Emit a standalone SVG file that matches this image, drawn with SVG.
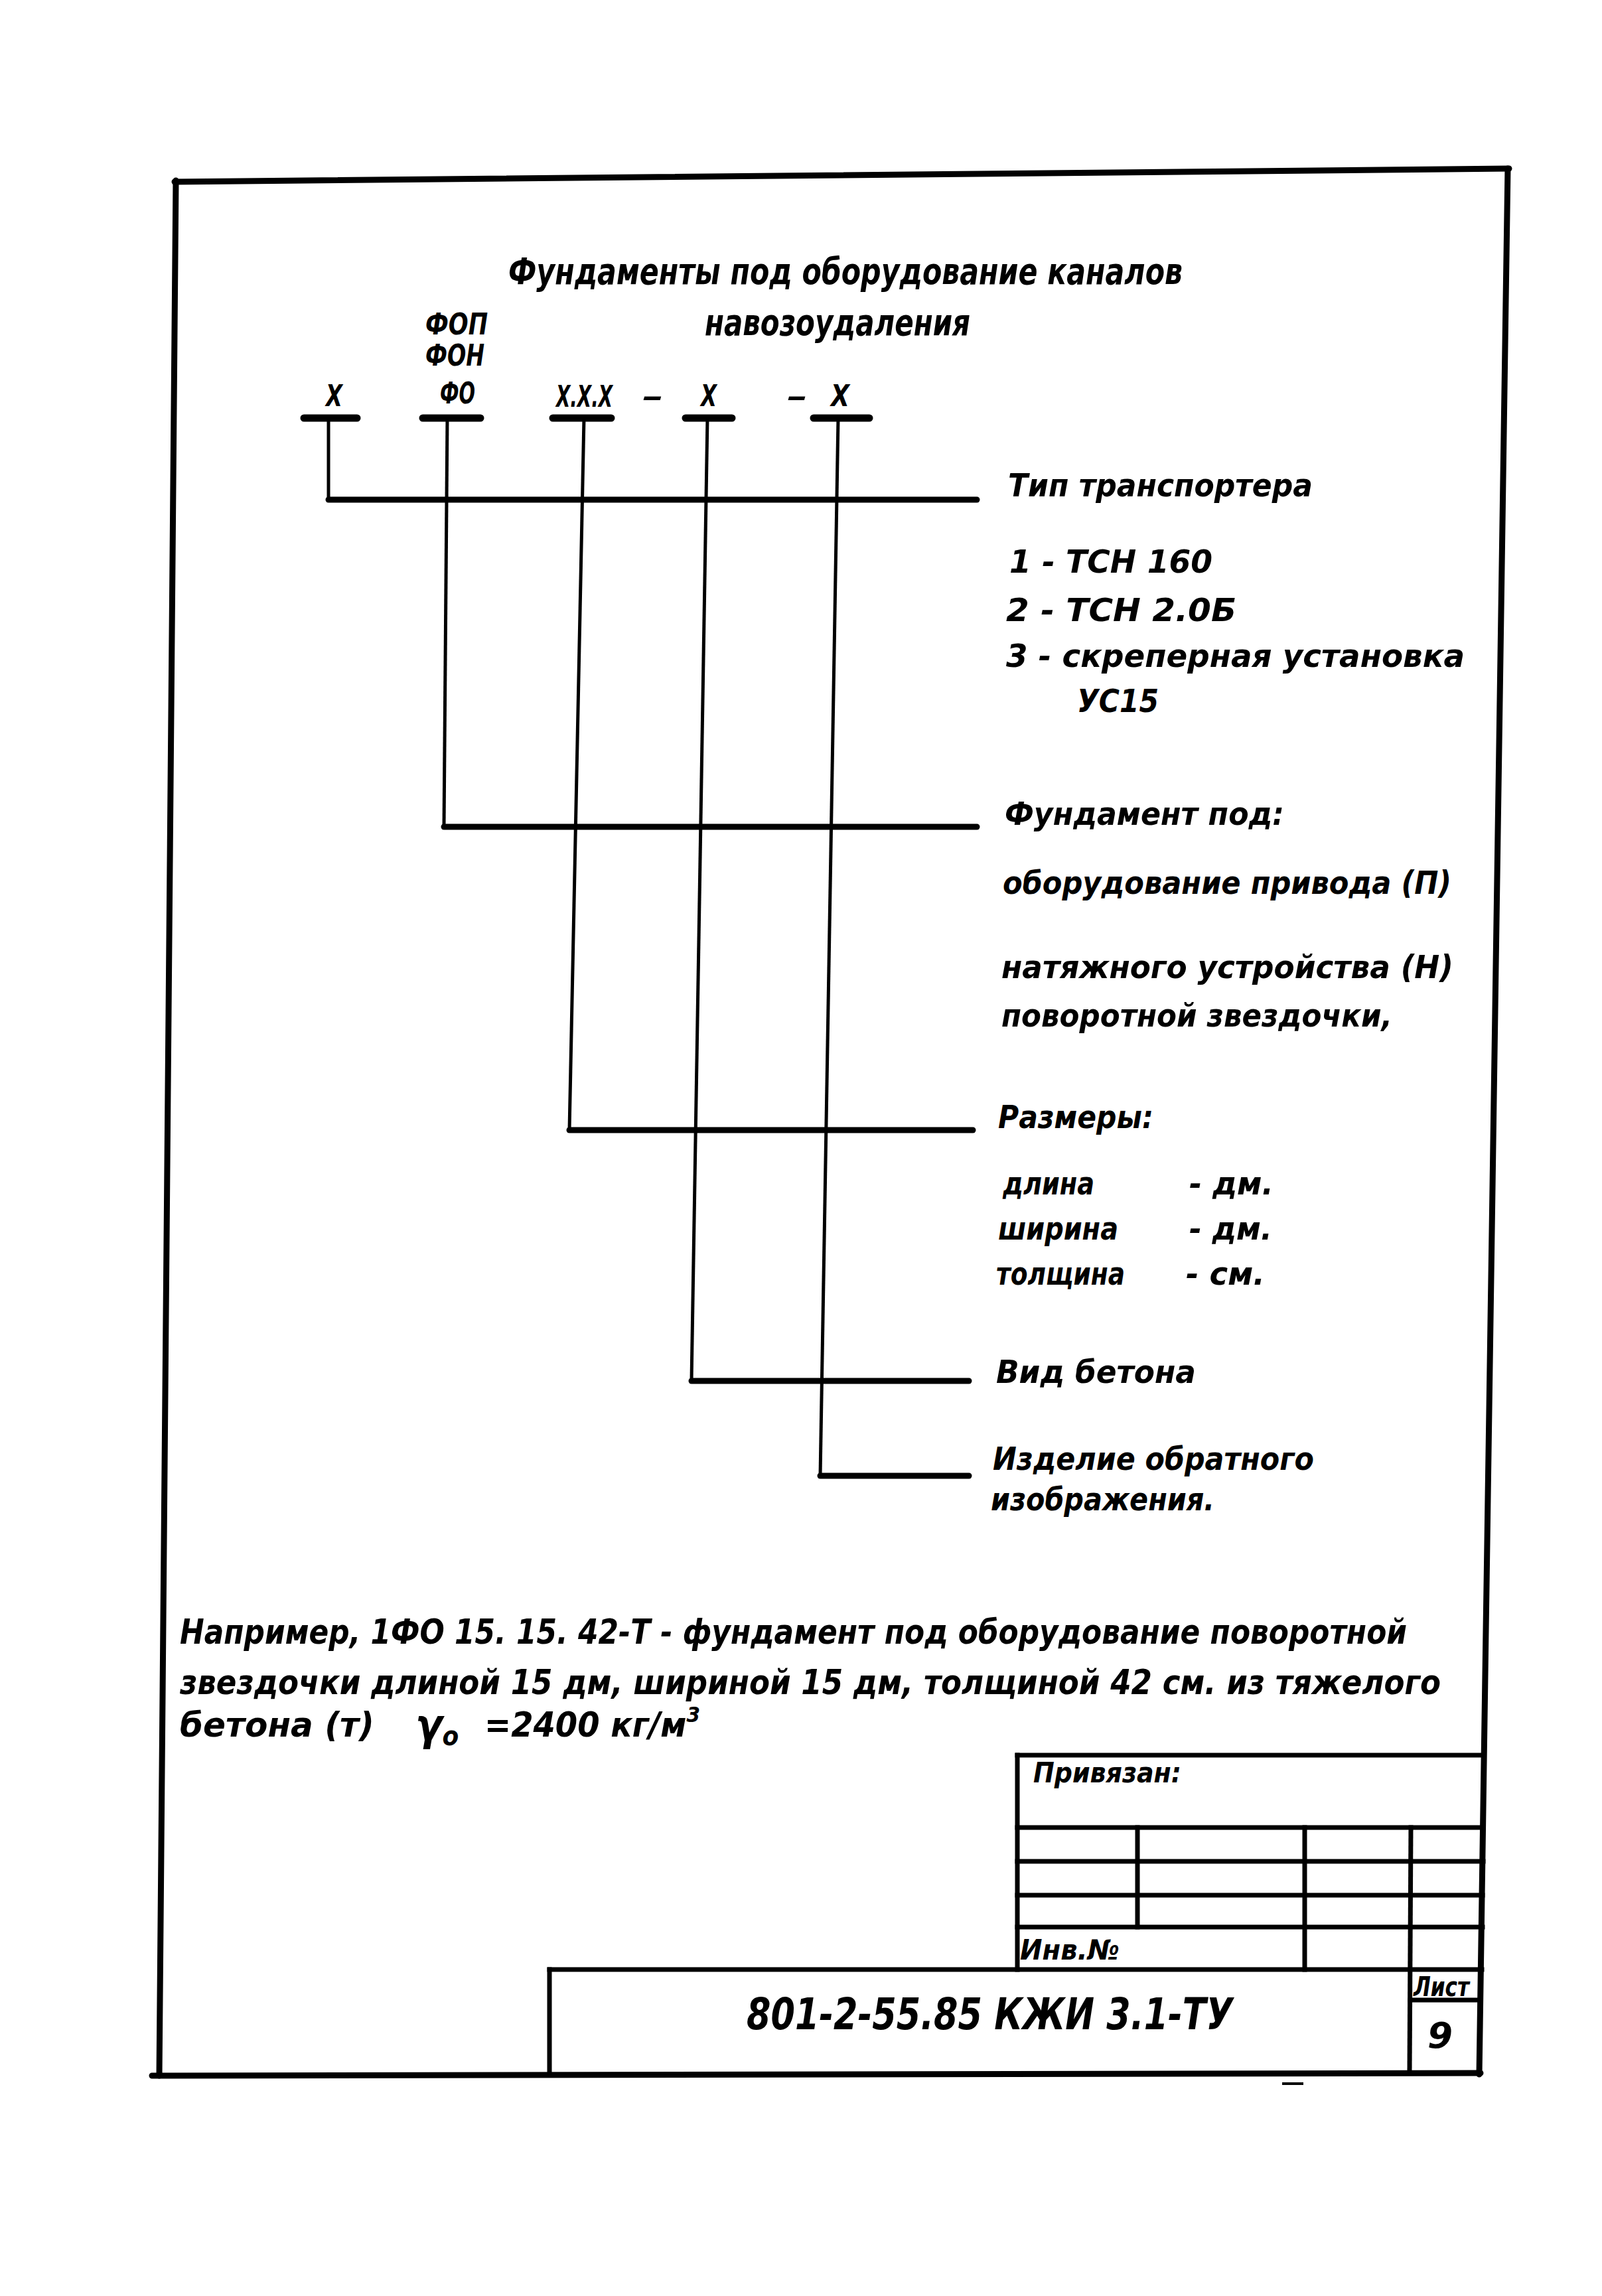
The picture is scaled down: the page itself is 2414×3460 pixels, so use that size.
<svg xmlns="http://www.w3.org/2000/svg" width="2414" height="3460" viewBox="0 0 2414 3460">
<style>
.t{font-family:"Liberation Sans Narrow","DejaVu Sans Condensed","Liberation Sans",sans-serif;font-style:italic;font-weight:bold;fill:#000}
.s48{font-size:48px}
.s44{font-size:44px}
.s56{font-size:56px}
.s52{font-size:52px}
.fr{stroke:#000;stroke-width:9;fill:none;stroke-linecap:round}
.tb{stroke:#000;stroke-width:7;fill:none;stroke-linecap:square}
.bar{stroke:#000;stroke-width:11;stroke-linecap:round;fill:none}
.cv{stroke:#000;stroke-width:5;fill:none;stroke-linejoin:round}
.ch{stroke:#000;stroke-width:9;stroke-linecap:round;fill:none}
</style>
<rect x="0" y="0" width="2414" height="3460" fill="#fff"/>
<g id="frame">
<line class="fr" x1="263" y1="274" x2="2274" y2="254"/>
<line class="fr" x1="2272" y1="254" x2="2229" y2="3126"/>
<line class="fr" x1="229" y1="3128" x2="2231" y2="3124"/>
<line class="fr" x1="265" y1="272" x2="240" y2="3128"/>
<line stroke="#000" stroke-width="4" x1="1932" y1="3140" x2="1964" y2="3140"/>
</g>
<g id="title">
<text class="t s56" x="766" y="428" textLength="1016" lengthAdjust="spacingAndGlyphs">Фундаменты под оборудование каналов</text>
<text class="t s56" x="1062" y="505" textLength="400" lengthAdjust="spacingAndGlyphs">навозоудаления</text>
</g>
<g id="code-x1">
<text class="t s44" x="491" y="612" textLength="25" lengthAdjust="spacingAndGlyphs">X</text>
<line class="bar" x1="458" y1="630" x2="538" y2="630"/>
</g>
<g id="code-fo">
<text class="t s44" x="641" y="504" textLength="94" lengthAdjust="spacingAndGlyphs">ФОП</text>
<text class="t s44" x="641" y="551" textLength="89" lengthAdjust="spacingAndGlyphs">ФОН</text>
<text class="t s44" x="663" y="608" textLength="53" lengthAdjust="spacingAndGlyphs">ФО</text>
<line class="bar" x1="637" y1="630" x2="724" y2="630"/>
</g>
<g id="code-xxx">
<text class="t s44" x="838" y="613" textLength="85" lengthAdjust="spacingAndGlyphs">X.X.X</text>
<line class="bar" x1="833" y1="630" x2="921" y2="630"/>
</g>
<g id="code-dash1">
<text class="t s44" x="968" y="612" textLength="32" lengthAdjust="spacingAndGlyphs">–</text>
</g>
<g id="code-x2">
<text class="t s44" x="1056" y="612" textLength="24" lengthAdjust="spacingAndGlyphs">X</text>
<line class="bar" x1="1033" y1="630" x2="1103" y2="630"/>
</g>
<g id="code-x3">
<text class="t s44" x="1186" y="612" textLength="31" lengthAdjust="spacingAndGlyphs">–</text>
<text class="t s44" x="1252" y="612" textLength="28" lengthAdjust="spacingAndGlyphs">X</text>
<line class="bar" x1="1226" y1="630" x2="1310" y2="630"/>
</g>
<g id="connectors">
<polyline class="cv" points="495,630 495,753"/>
<line class="ch" x1="495" y1="753" x2="1472" y2="753"/>
<polyline class="cv" points="674,630 669,1246"/>
<line class="ch" x1="669" y1="1246" x2="1472" y2="1246"/>
<polyline class="cv" points="880,630 858,1703"/>
<line class="ch" x1="858" y1="1703" x2="1466" y2="1703"/>
<polyline class="cv" points="1066,630 1042,2081"/>
<line class="ch" x1="1042" y1="2081" x2="1460" y2="2081"/>
<polyline class="cv" points="1263,630 1236,2224"/>
<line class="ch" x1="1236" y1="2224" x2="1460" y2="2224"/>
</g>
<g id="desc-type">
<text class="t s48" x="1519" y="748" textLength="459" lengthAdjust="spacingAndGlyphs">Тип транспортера</text>
<text class="t s48" x="1521" y="863" textLength="306" lengthAdjust="spacingAndGlyphs">1 - ТСН 160</text>
<text class="t s48" x="1516" y="936" textLength="347" lengthAdjust="spacingAndGlyphs">2 - ТСН 2.0Б</text>
<text class="t s48" x="1516" y="1005" textLength="691" lengthAdjust="spacingAndGlyphs">3 - скреперная установка</text>
<text class="t s48" x="1623" y="1073" textLength="123" lengthAdjust="spacingAndGlyphs">УС15</text>
</g>
<g id="desc-foundation">
<text class="t s48" x="1514" y="1243" textLength="421" lengthAdjust="spacingAndGlyphs">Фундамент под:</text>
<text class="t s48" x="1511" y="1347" textLength="676" lengthAdjust="spacingAndGlyphs">оборудование привода (П)</text>
<text class="t s48" x="1509" y="1474" textLength="681" lengthAdjust="spacingAndGlyphs">натяжного устройства (Н)</text>
<text class="t s48" x="1509" y="1547" textLength="589" lengthAdjust="spacingAndGlyphs">поворотной звездочки,</text>
</g>
<g id="desc-sizes">
<text class="t s48" x="1504" y="1700" textLength="234" lengthAdjust="spacingAndGlyphs">Размеры:</text>
<text class="t s48" x="1511" y="1800" textLength="138" lengthAdjust="spacingAndGlyphs">длина</text>
<text class="t s48" x="1792" y="1800" textLength="127" lengthAdjust="spacingAndGlyphs">- дм.</text>
<text class="t s48" x="1504" y="1868" textLength="181" lengthAdjust="spacingAndGlyphs">ширина</text>
<text class="t s48" x="1792" y="1868" textLength="125" lengthAdjust="spacingAndGlyphs">- дм.</text>
<text class="t s48" x="1501" y="1936" textLength="194" lengthAdjust="spacingAndGlyphs">толщина</text>
<text class="t s48" x="1787" y="1936" textLength="119" lengthAdjust="spacingAndGlyphs">- см.</text>
</g>
<g id="desc-concrete">
<text class="t s48" x="1501" y="2084" textLength="301" lengthAdjust="spacingAndGlyphs">Вид бетона</text>
</g>
<g id="desc-mirror">
<text class="t s48" x="1496" y="2215" textLength="484" lengthAdjust="spacingAndGlyphs">Изделие обратного</text>
<text class="t s48" x="1493" y="2276" textLength="337" lengthAdjust="spacingAndGlyphs">изображения.</text>
</g>
<g id="example">
<text class="t s52" x="271" y="2477" textLength="1849" lengthAdjust="spacingAndGlyphs">Например, 1ФО 15. 15. 42-Т - фундамент под оборудование поворотной</text>
<text class="t s52" x="271" y="2553" textLength="1900" lengthAdjust="spacingAndGlyphs">звездочки длиной 15 дм, шириной 15 дм, толщиной 42 см. из тяжелого</text>
<text class="t s52" x="271" y="2617" textLength="293" lengthAdjust="spacingAndGlyphs">бетона (т)</text>
<text class="t" x="626" y="2622" font-size="66">γ<tspan font-size="40" dy="8">о</tspan></text>
<text class="t s52" x="730" y="2617" textLength="325" lengthAdjust="spacingAndGlyphs">=2400 кг/м<tspan font-size="32" dy="-22">3</tspan></text>
</g>
<g id="title-block">
<line class="tb" x1="1533" y1="2645" x2="2236" y2="2645"/>
<line class="tb" x1="1533" y1="2645" x2="1533" y2="2968"/>
<line class="tb" x1="1533" y1="2754" x2="2235" y2="2754"/>
<line class="tb" x1="1533" y1="2805" x2="2235" y2="2805"/>
<line class="tb" x1="1533" y1="2856" x2="2234" y2="2856"/>
<line class="tb" x1="1533" y1="2904" x2="2234" y2="2904"/>
<line class="tb" x1="828" y1="2968" x2="2233" y2="2968"/>
<line class="tb" x1="828" y1="2968" x2="828" y2="3126"/>
<line class="tb" x1="1714" y1="2754" x2="1714" y2="2904"/>
<line class="tb" x1="1966" y1="2754" x2="1966" y2="2968"/>
<line class="tb" x1="2126" y1="2754" x2="2124" y2="3124"/>
<line class="tb" x1="2125" y1="3014" x2="2230" y2="3014"/>
<text class="t" font-size="42" x="1557" y="2686" textLength="223" lengthAdjust="spacingAndGlyphs">Привязан:</text>
<text class="t" font-size="42" x="1537" y="2953" textLength="150" lengthAdjust="spacingAndGlyphs">Инв.№</text>
<text class="t" font-size="66" x="1125" y="3058" textLength="733" lengthAdjust="spacingAndGlyphs">801-2-55.85 КЖИ 3.1-ТУ</text>
<text class="t" font-size="40" x="2130" y="3008" textLength="84" lengthAdjust="spacingAndGlyphs">Лист</text>
<text class="t" font-size="54" x="2151" y="3086" textLength="38" lengthAdjust="spacingAndGlyphs">9</text>
</g>
</svg>
